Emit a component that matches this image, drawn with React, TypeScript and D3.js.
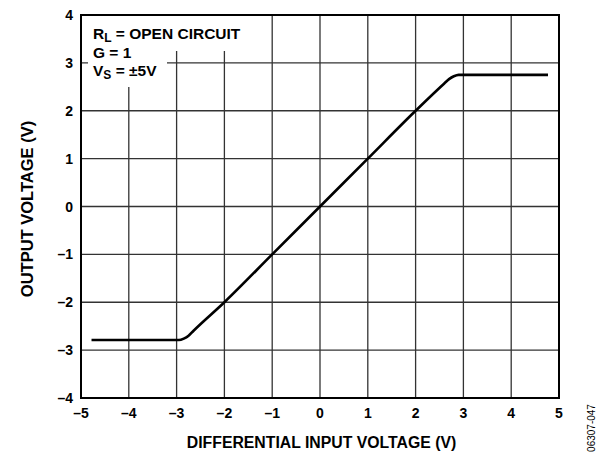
import React from "react";
import * as d3 from "d3";

const xTicks = [-5, -4, -3, -2, -1, 0, 1, 2, 3, 4, 5];
const yTicks = [-4, -3, -2, -1, 0, 1, 2, 3, 4];
const curveX = [-4.78, -2.95, -2.85, -2.75, -2.65, -2.0, -1.0, 0, 1.0, 2.0, 2.6, 2.7, 2.8, 2.9, 4.77];
const curveY = [-2.79, -2.79, -2.76, -2.7, -2.6, -2.0, -1.0, 0, 1.0, 2.0, 2.57, 2.66, 2.72, 2.75, 2.75];

const W = 600, H = 456;
const L = 81, R = 559, T = 15, B = 398;

export default function App() {
  const x = d3.scaleLinear().domain([-5, 5]).range([L, R]);
  const y = d3.scaleLinear().domain([-4, 4]).range([B, T]);
  const pts = curveX.map((v, i) => [v, curveY[i]] as [number, number]);
  const line = d3.line<[number, number]>().x(d => x(d[0])).y(d => y(d[1])).curve(d3.curveMonotoneX);
  const font = "'Liberation Sans', Arial, sans-serif";
  const fmt = (t: number) => (t < 0 ? "\u2013" + Math.abs(t) : String(t));
  return (
    <svg width={W} height={H} style={{ position: "absolute", left: 0, top: 0 }} fontFamily={font} fontWeight="bold">
      <rect x={0} y={0} width={W} height={H} fill="#fff" />
      {xTicks.slice(1, -1).map(t => (
        <line key={"gx" + t} x1={x(t)} x2={x(t)} y1={T} y2={B} stroke="#333" strokeWidth={1.3} />
      ))}
      {yTicks.slice(1, -1).map(t => (
        <line key={"gy" + t} x1={L} x2={R} y1={y(t)} y2={y(t)} stroke="#333" strokeWidth={1.3} />
      ))}
      <rect x={83} y={16} width={165} height={35} fill="#fff" />
      <rect x={88} y={51} width={79} height={36} fill="#fff" />
      <text x={93} y={39} fontSize={15.5}>R<tspan dy={3} fontSize={12}>L</tspan><tspan dy={-3}> = OPEN CIRCUIT</tspan></text>
      <text x={93} y={57.5} fontSize={15.5}>G = 1</text>
      <text x={93} y={75.5} fontSize={15.5}>V<tspan dy={3} fontSize={12}>S</tspan><tspan dy={-3}> = ±5V</tspan></text>
      <rect x={L} y={T} width={R - L} height={B - T} fill="none" stroke="#000" strokeWidth={2} />
      <path d={line(pts) || ""} fill="none" stroke="#000" strokeWidth={2.6} strokeLinejoin="round" />
      {xTicks.map(t => (
        <text key={"tx" + t} x={x(t)} y={418} fontSize={14} textAnchor="middle">{fmt(t)}</text>
      ))}
      {yTicks.map(t => (
        <text key={"ty" + t} x={73} y={y(t) + 5} fontSize={14} textAnchor="end">{fmt(t)}</text>
      ))}
      <text x={321.5} y={448} fontSize={15.8} textAnchor="middle">DIFFERENTIAL INPUT VOLTAGE (V)</text>
      <text transform={`translate(33,209) rotate(-90)`} fontSize={16.5} textAnchor="middle">OUTPUT VOLTAGE (V)</text>
      <text transform={`translate(595,428) rotate(-90)`} fontSize={10} fontWeight="normal" textAnchor="middle">06307-047</text>
    </svg>
  );
}
